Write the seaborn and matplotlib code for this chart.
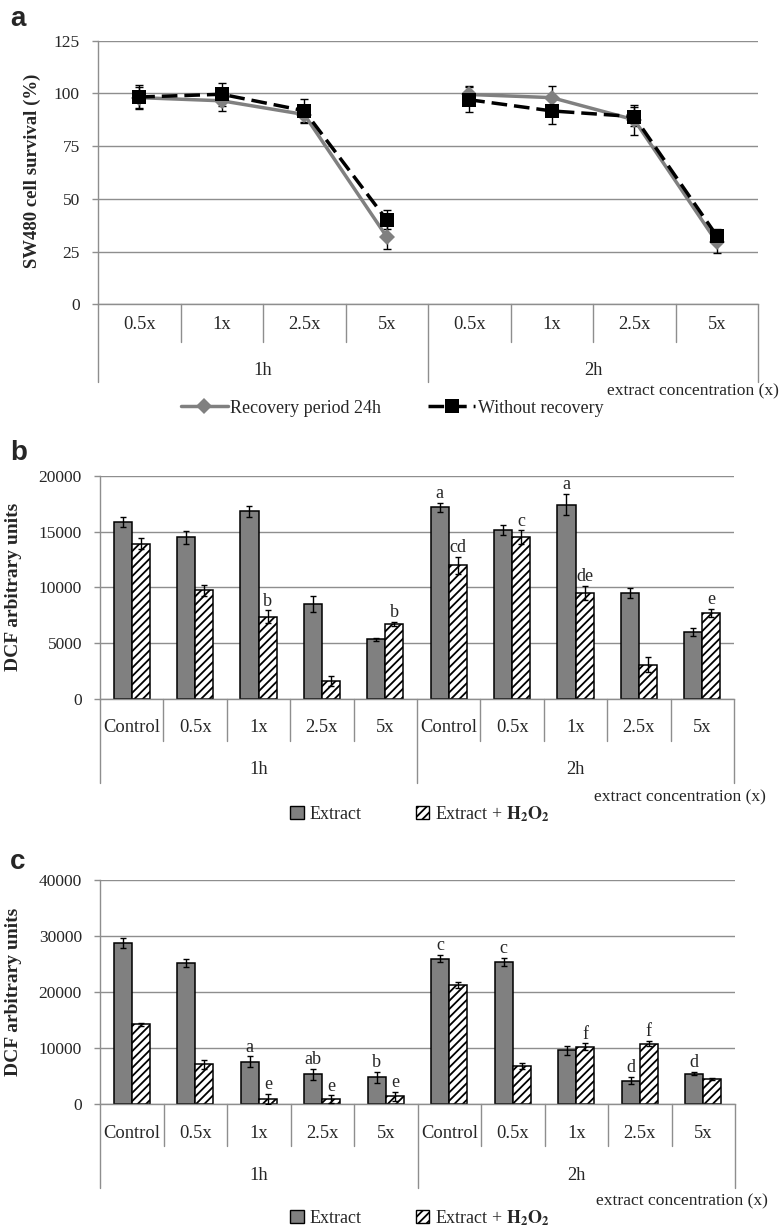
import numpy as np
import pandas as pd
import seaborn as sns
import matplotlib.pyplot as plt
from matplotlib.patches import Patch

# ---- data ----
times = ['1h', '2h']
conc_a = ['0.5x', '1x', '2.5x', '5x']
conc_b = ['Control', '0.5x', '1x', '2.5x', '5x']

# panel a: SW480 survival (%)
recovery = [98, 96.5, 90, 32, 99.5, 98, 87.5, 29.5]
recovery_err = [5, 5, 4, 6, 4, 5.5, 7, 5]
no_recovery = [98.3, 99.6, 91.8, 40, 97, 91.7, 89, 32.5]
no_recovery_err = [5.5, 5.5, 5.5, 4.5, 6, 6, 4.5, 3]

# panel b: DCF arbitrary units
extract_b = [15820, 14480, 16830, 8490, 5330, 17190, 15160, 17400, 9480, 5980]
extract_b_err = [450, 570, 500, 700, 150, 400, 460, 950, 450, 340]
h2o2_b = [13900, 9720, 7360, 1590, 6700, 11960, 14480, 9480, 3080, 7690]
h2o2_b_err = [480, 450, 570, 450, 200, 730, 620, 650, 660, 360]
letters_ext_b = ['', '', '', '', '', 'a', '', 'a', '', '']
letters_h2o2_b = ['', '', 'b', '', 'b', 'cd', 'c', 'de', '', 'e']

# panel c: DCF arbitrary units
extract_c = [28720, 25140, 7545, 5270, 4790, 25980, 25380, 9580, 4190, 5390]
extract_c_err = [900, 700, 960, 960, 960, 700, 750, 750, 600, 300]
h2o2_c = [14210, 7070, 900, 840, 1380, 21260, 6770, 10240, 10780, 4490]
h2o2_c_err = [250, 780, 900, 700, 800, 550, 540, 570, 450, 150]
letters_ext_c = ['', '', 'a', 'ab', 'b', 'c', 'c', '', 'd', 'd']
letters_h2o2_c = ['', '', 'e', 'e', 'e', '', '', 'f', 'f', '']

sns.set_theme(style='white')
plt.rcParams['font.family'] = ['Liberation Serif', 'DejaVu Serif']
plt.rcParams['mathtext.fontset'] = 'stix'
plt.rcParams['hatch.linewidth'] = 1.3

W, H = 780, 1230
GRID = '#8e8e8e'
GRAY = '#808080'

fig = plt.figure(figsize=(W / 100, H / 100), dpi=100)


def axes_px(left, top, right, bottom):
    return fig.add_axes([left / W, 1 - bottom / H, (right - left) / W, (bottom - top) / H])


def fig_text(x, y, s, **kw):
    fig.text(x / W, 1 - y / H, s, **kw)


def style_axes(ax, top, step):
    ax.set_ylim(0, top)
    ax.set_yticks(np.arange(0, top + 1, step))
    ax.grid(axis='y', color=GRID, lw=1)
    ax.grid(axis='x', visible=False)
    ax.set_axisbelow(True)
    for s in ['top', 'right']:
        ax.spines[s].set_visible(False)
    for s in ['left', 'bottom']:
        ax.spines[s].set_color(GRID)
        ax.spines[s].set_linewidth(1)
    ax.tick_params(axis='y', left=True, length=4, width=1, color=GRID, pad=9, labelsize=12.5)
    ax.tick_params(axis='x', bottom=False, labelbottom=False)
    ax.set_xlabel('')
    ax.set_ylabel('')


def category_table(ax, cats, row1, row2, lab1, lab2):
    # two-level category axis (concentration / exposure time)
    n = len(cats) * len(times)
    per = len(cats)
    ax.set_xlim(-0.5, n - 0.5)
    trans = ax.get_xaxis_transform()
    hpx = ax.get_position().height * H
    for i in range(n + 1):
        depth = row2 if i % per == 0 else row1
        ax.plot([i - 0.5, i - 0.5], [0, -depth / hpx], transform=trans,
                color=GRID, lw=1, clip_on=False)
    for i in range(n):
        ax.text(i, -lab1 / hpx, cats[i % per], transform=trans,
                ha='center', va='center', fontsize=13.3)
    for g, t in enumerate(times):
        ax.text(g * per + (per - 1) / 2, -lab2 / hpx, t, transform=trans,
                ha='center', va='center', fontsize=13.3)


# ---------------- panel a ----------------
ax_a = axes_px(98, 40.7, 758, 304.3)
series_a = ['Recovery period 24h', 'Without recovery']
df_a = pd.DataFrame({
    'pos': list(range(8)) * 2,
    'survival': recovery + no_recovery,
    'series': [series_a[0]] * 8 + [series_a[1]] * 8,
    'time': [t for t in times for _ in conc_a] * 2,
})
sns.lineplot(data=df_a, x='pos', y='survival', hue='series', style='series',
             units='time', estimator=None,
             hue_order=series_a, style_order=series_a,
             palette={series_a[0]: GRAY, series_a[1]: 'black'},
             markers={series_a[0]: 'D', series_a[1]: 's'},
             dashes={series_a[0]: '', series_a[1]: (4.5, 2)},
             linewidth=2.5, markersize=9, markeredgewidth=0,
             legend=False, ax=ax_a)
line_handles = [None, None]
for line in ax_a.lines:
    if line.get_marker() == 'D':
        line.set_markersize(8)
        line_handles[0] = line_handles[0] or line
    elif line.get_marker() == 's':
        line.set_markersize(10)
        line_handles[1] = line_handles[1] or line
for vals, errs in [(recovery, recovery_err), (no_recovery, no_recovery_err)]:
    ax_a.errorbar(range(8), vals, yerr=errs, fmt='none', ecolor='black',
                  elinewidth=1, capsize=3, capthick=1, zorder=1.8)
style_axes(ax_a, 125, 25)
category_table(ax_a, conc_a, 38, 78, 20, 66)
fig_text(32, 171, 'SW480 cell survival (%)', rotation=90, ha='center', va='center',
         fontsize=13.5, fontweight='bold')
fig_text(779, 391, 'extract concentration (x)', ha='right', va='center', fontsize=12.6)
fig.legend(line_handles, series_a, loc='center', bbox_to_anchor=(392 / W, 1 - 408 / H),
           ncol=2, frameon=False, fontsize=13, handlelength=2.6, handletextpad=0.15,
           columnspacing=2.6, borderpad=0)


# ---------------- panels b and c ----------------
def bar_panel(ax, extract, extract_err, h2o2, h2o2_err, lab_e, lab_h, top, step):
    ids = [f'{t} {c}' for t in times for c in conc_b]
    df = pd.DataFrame({
        'id': ids * 2,
        'value': extract + h2o2,
        'series': ['Extract'] * len(ids) + ['Extract + H2O2'] * len(ids),
    })
    sns.barplot(data=df, x='id', y='value', hue='series', order=ids,
                hue_order=['Extract', 'Extract + H2O2'],
                palette={'Extract': GRAY, 'Extract + H2O2': 'white'},
                saturation=1, width=0.574, gap=0, edgecolor='black', linewidth=1.1,
                errorbar=None, legend=False, ax=ax)
    bar_conts = list(ax.containers[:2])
    for b in bar_conts[1]:
        b.set_hatch('////')
    for bars, errs, labs in zip(bar_conts, [extract_err, h2o2_err], [lab_e, lab_h]):
        xs = [b.get_x() + b.get_width() / 2 for b in bars]
        ys = [b.get_height() for b in bars]
        ax.errorbar(xs, ys, yerr=errs, fmt='none', ecolor='black',
                    elinewidth=1, capsize=2.5, capthick=1, zorder=3)
        for x, y, e, lab in zip(xs, ys, errs, labs):
            if lab:
                ax.annotate(lab, (x, y + e), xytext=(0, 3.5), textcoords='offset points',
                            ha='center', va='baseline', fontsize=13)
    style_axes(ax, top, step)
    category_table(ax, conc_b, 42, 84, 29, 71)


bar_handles = [Patch(facecolor=GRAY, edgecolor='black', lw=1),
               Patch(facecolor='white', edgecolor='black', hatch='////', lw=1)]
bar_labels = ['Extract', 'Extract + $\\mathbf{H_2O_2}$']

ax_b = axes_px(100, 475.7, 734, 699)
bar_panel(ax_b, extract_b, extract_b_err, h2o2_b, h2o2_b_err,
          letters_ext_b, letters_h2o2_b, 20000, 5000)
fig_text(14, 587, 'DCF arbitrary units', rotation=90, ha='center', va='center',
         fontsize=14, fontweight='bold')
fig_text(766, 797, 'extract concentration (x)', ha='right', va='center', fontsize=12.6)
fig.legend(bar_handles, bar_labels, loc='center', bbox_to_anchor=(420 / W, 1 - 814 / H),
           ncol=2, frameon=False, fontsize=13, handlelength=0.75, handleheight=0.75,
           handletextpad=0.3, columnspacing=3.0, borderpad=0)

ax_c = axes_px(100, 880, 735, 1104)
bar_panel(ax_c, extract_c, extract_c_err, h2o2_c, h2o2_c_err,
          letters_ext_c, letters_h2o2_c, 40000, 10000)
fig_text(14, 992, 'DCF arbitrary units', rotation=90, ha='center', va='center',
         fontsize=14, fontweight='bold')
fig_text(768, 1201, 'extract concentration (x)', ha='right', va='center', fontsize=12.6)
fig.legend(bar_handles, bar_labels, loc='center', bbox_to_anchor=(420 / W, 1 - 1218 / H),
           ncol=2, frameon=False, fontsize=13, handlelength=0.75, handleheight=0.75,
           handletextpad=0.3, columnspacing=3.0, borderpad=0)

# panel letters
for letter, y in [('a', 19), ('b', 453), ('c', 862)]:
    fig_text(10, y, letter, ha='left', va='center', fontsize=20, fontweight='bold',
             family=['Liberation Sans', 'DejaVu Sans'])

fig.savefig('out.png', dpi=100)
plt.close(fig)
